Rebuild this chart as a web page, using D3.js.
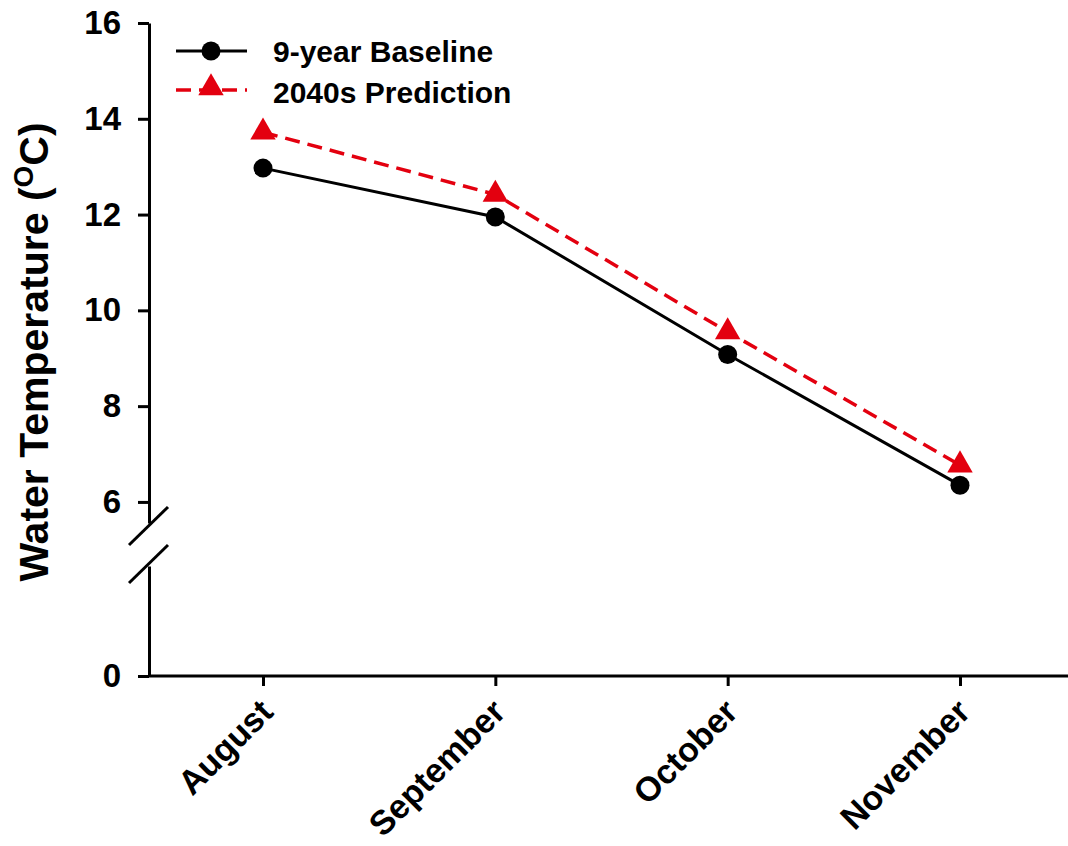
<!DOCTYPE html>
<html>
<head>
<meta charset="utf-8">
<script src="https://cdn.jsdelivr.net/npm/d3@7"></script>
<style>
  html, body { margin: 0; padding: 0; background: #fff; }
  svg { display: block; font-family: "Liberation Sans", Arial, sans-serif; font-weight: bold; }
</style>
</head>
<body>
<div id="chart"></div>
<script>
// data
var months = ["August", "September", "October", "November"];
var baseline = [12.97, 11.95, 9.08, 6.35];
var prediction = [13.72, 12.42, 9.55, 6.77];
var upperTicks = [6, 8, 10, 12, 14, 16];
var lowerTicks = [0];
var seriesNames = ["9-year Baseline", "2040s Prediction"];

var width = 1068, height = 846;

var svg = d3.select("#chart").append("svg")
  .attr("width", width)
  .attr("height", height);

// broken y axis: two scales, same px per unit
var yTop = d3.scaleLinear().domain([5.56, 16]).range([523, 23]);
var yBot = d3.scaleLinear().domain([0, 2.3]).range([676, 566]);
var x = d3.scalePoint().domain(months).range([263, 960]);

var axisX = 149;

function styleAxis(g) {
  g.selectAll("path.domain").attr("stroke", "#000").attr("stroke-width", 3);
  g.selectAll(".tick line").attr("stroke", "#000").attr("stroke-width", 3);
  g.selectAll(".tick text")
    .attr("fill", "#000")
    .style("font-size", "33px")
    .style("font-weight", "bold")
    .style("font-family", "'Liberation Sans', Arial, sans-serif");
}

var gTop = svg.append("g")
  .attr("transform", "translate(" + axisX + ",0)")
  .call(d3.axisLeft(yTop).tickValues(upperTicks).tickFormat(d3.format("d"))
    .tickSize(11).tickSizeOuter(0).tickPadding(17));
styleAxis(gTop);

var gBot = svg.append("g")
  .attr("transform", "translate(" + axisX + ",0)")
  .call(d3.axisLeft(yBot).tickValues(lowerTicks).tickFormat(d3.format("d"))
    .tickSize(11).tickSizeOuter(0).tickPadding(17));
styleAxis(gBot);

// break marks
var brk = svg.append("g").attr("stroke", "#000").attr("stroke-width", 3);
brk.append("line").attr("x1", 129).attr("y1", 545).attr("x2", 168).attr("y2", 507);
brk.append("line").attr("x1", 129).attr("y1", 583).attr("x2", 168).attr("y2", 545);

// x axis
var gX = svg.append("g")
  .attr("transform", "translate(0," + yBot(0) + ")")
  .call(d3.axisBottom(x).tickSize(10).tickSizeOuter(0));
gX.select("path.domain").remove();
gX.selectAll(".tick line").attr("stroke", "#000").attr("stroke-width", 3);
gX.selectAll(".tick text").remove();
gX.append("line")
  .attr("x1", axisX - 1).attr("x2", width)
  .attr("y1", 0).attr("y2", 0)
  .attr("stroke", "#000").attr("stroke-width", 3);

svg.append("g").selectAll("text")
  .data(months)
  .enter().append("text")
    .attr("transform", function(d) { return "translate(" + (x(d) + 12) + ",714) rotate(-45)"; })
    .attr("text-anchor", "end")
    .style("font-size", "34px")
    .text(function(d) { return d; });

// y title
var title = svg.append("text")
  .attr("transform", "translate(48,352) rotate(-90)")
  .attr("text-anchor", "middle")
  .style("font-size", "41px");
title.append("tspan").text("Water Temperature (");
title.append("tspan").attr("baseline-shift", "super").style("font-size", "28px").text("O");
title.append("tspan").text("C)");

// lines
var lineTop = d3.line()
  .x(function(d, i) { return x(months[i]); })
  .y(function(d) { return yTop(d); });

var red = "#e3000f";

svg.append("path")
  .datum(baseline)
  .attr("fill", "none")
  .attr("stroke", "#000")
  .attr("stroke-width", 3)
  .attr("d", lineTop);

svg.append("path")
  .datum(prediction)
  .attr("fill", "none")
  .attr("stroke", red)
  .attr("stroke-width", 3.5)
  .attr("stroke-dasharray", "15,8")
  .attr("d", lineTop);

var tri = d3.symbol().type(d3.symbolTriangle).size(280);

svg.append("g").selectAll("circle")
  .data(baseline)
  .enter().append("circle")
    .attr("cx", function(d, i) { return x(months[i]); })
    .attr("cy", function(d) { return yTop(d); })
    .attr("r", 9.5)
    .attr("fill", "#000");

svg.append("g").selectAll("path")
  .data(prediction)
  .enter().append("path")
    .attr("transform", function(d, i) { return "translate(" + x(months[i]) + "," + yTop(d) + ")"; })
    .attr("d", tri)
    .attr("fill", red);

// legend
var legend = svg.append("g").attr("transform", "translate(176,51)");
legend.append("line").attr("x1", 0).attr("x2", 71).attr("y1", 0).attr("y2", 0)
  .attr("stroke", "#000").attr("stroke-width", 3);
legend.append("circle").attr("cx", 35).attr("cy", 0).attr("r", 9.5).attr("fill", "#000");
legend.append("text").attr("x", 97).attr("y", 11).style("font-size", "30px").text(seriesNames[0]);

legend.append("line").attr("x1", 0).attr("x2", 71).attr("y1", 39).attr("y2", 39)
  .attr("stroke", red).attr("stroke-width", 3.5).attr("stroke-dasharray", "15,8");
legend.append("path").attr("transform", "translate(35,37)").attr("d", tri).attr("fill", red);
legend.append("text").attr("x", 97).attr("y", 52).style("font-size", "30px").text(seriesNames[1]);
</script>
</body>
</html>
